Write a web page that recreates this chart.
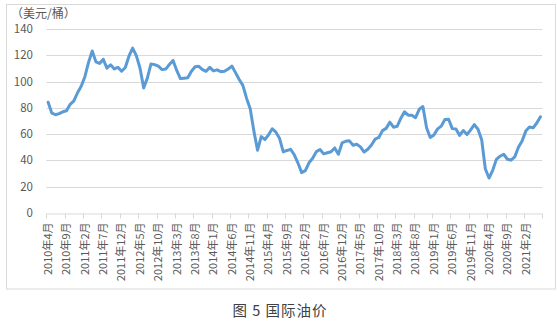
<!DOCTYPE html>
<html>
<head>
<meta charset="utf-8">
<script src="https://cdn.jsdelivr.net/npm/d3@7"></script>
<style>
  body { margin: 0; background: #fff; }
  text { font-family: "Noto Sans CJK SC", "DejaVu Sans", sans-serif; }
</style>
</head>
<body>
<div id="chart"></div>
<script>
// monthly values, 2010年4月 .. 2021年6月
var startYear = 2010;
var startMonth = 4;
var prices = [
  84.3, 76.0, 74.8, 75.6, 77.0, 77.8, 82.7, 85.3, 91.5,
  96.5, 103.7, 114.6, 123.3, 115.0, 113.8, 117.0, 110.2, 112.8, 109.6, 110.8, 107.9,
  110.7, 119.3, 125.5, 119.8, 110.3, 95.2, 102.6, 113.4, 112.9, 111.7, 109.1, 109.5,
  113.0, 116.1, 108.5, 102.3, 102.6, 102.9, 107.9, 111.3, 111.6, 109.1, 107.8, 110.8,
  108.1, 108.9, 107.5, 107.8, 109.5, 111.8, 106.8, 101.6, 97.1, 87.4, 79.4, 62.3,
  47.8, 58.1, 55.9, 59.5, 64.1, 61.5, 56.6, 46.5, 47.6, 48.4, 44.3, 38.0,
  30.7, 32.2, 38.2, 41.6, 46.7, 48.3, 45.0, 45.8, 46.6, 49.5, 44.7, 53.3,
  54.6, 54.9, 51.6, 52.3, 50.3, 46.4, 48.5, 51.7, 56.2, 57.5, 62.7, 64.4,
  69.1, 65.3, 66.0, 72.1, 77.0, 74.4, 74.3, 72.5, 78.9, 81.0, 64.8, 57.4,
  59.4, 64.0, 66.1, 71.2, 71.3, 64.2, 63.9, 59.0, 62.8, 59.7, 63.2, 67.3,
  63.7, 55.7, 33.5, 26.6, 32.5, 40.8, 43.2, 44.7, 40.9, 40.2, 42.7, 50.0,
  54.8, 62.3, 65.4, 64.8, 68.5, 73.2
];
var yTicks = [0, 20, 40, 60, 80, 100, 120, 140];
var unitLabel = "（美元/桶）";
var caption = "图 5 国际油价";

var months = prices.map(function(d, i) {
  var m = startMonth - 1 + i;
  return (startYear + Math.floor(m / 12)) + "年" + (m % 12 + 1) + "月";
});

var width = 557;
var height = 324;
var margin = { top: 29, left: 46.3, bottom: 111, right: 14.7 };

var svg = d3
  .select("#chart")
  .append("svg")
  .attr("width", width)
  .attr("height", height);

// outer frame
svg
  .append("rect")
  .attr("x", 6.5)
  .attr("y", 4.5)
  .attr("width", 549)
  .attr("height", 284.5)
  .attr("fill", "none")
  .attr("stroke", "#d9d9d9")
  .attr("stroke-width", 1);

var x = d3
  .scaleBand()
  .domain(months)
  .range([margin.left, width - margin.right])
  .padding(0);

var y = d3
  .scaleLinear()
  .domain([0, 140])
  .range([height - margin.bottom, margin.top]);

// grid
svg
  .selectAll(".grid")
  .data(yTicks.filter(function(d) { return d > 0; }))
  .enter()
  .append("line")
  .attr("class", "grid")
  .attr("x1", margin.left)
  .attr("x2", width - margin.right)
  .attr("y1", function(d) { return Math.round(y(d)) + 0.5; })
  .attr("y2", function(d) { return Math.round(y(d)) + 0.5; })
  .attr("stroke", "#d9d9d9")
  .attr("stroke-width", 1);

// y labels
svg
  .selectAll(".ylab")
  .data(yTicks)
  .enter()
  .append("text")
  .attr("class", "ylab")
  .attr("x", 33)
  .attr("y", function(d) { return y(d); })
  .attr("dy", "0.35em")
  .attr("text-anchor", "end")
  .attr("font-size", "11.5px")
  .attr("fill", "#595959")
  .text(function(d) { return d; });

svg
  .append("text")
  .attr("x", 11)
  .attr("y", 18)
  .attr("font-size", "12px")
  .attr("fill", "#595959")
  .text(unitLabel);

// x axis
var tickIdx = months.filter(function(d, i) { return i % 5 == 0; });
var xAxis = d3
  .axisBottom(x)
  .tickValues(tickIdx)
  .tickSize(0)
  .tickFormat("");

var axisY = Math.round(y(0)) + 0.5;
var gx = svg
  .append("g")
  .attr("transform", "translate(0," + axisY + ")")
  .call(xAxis);
gx.select(".domain").attr("stroke", "#d9d9d9");

// tick marks sit between categories
var tickPos = tickIdx.map(function(d) { return x(d); });
tickPos.push(width - margin.right);
gx.selectAll(".tk")
  .data(tickPos)
  .enter()
  .append("line")
  .attr("class", "tk")
  .attr("x1", function(d) { return Math.round(d) + 0.5; })
  .attr("x2", function(d) { return Math.round(d) + 0.5; })
  .attr("y1", 0)
  .attr("y2", 5)
  .attr("stroke", "#d9d9d9");

svg
  .selectAll(".xlab")
  .data(tickIdx)
  .enter()
  .append("text")
  .attr("class", "xlab")
  .attr("transform", function(d) {
    return "translate(" + (x(d) + x.bandwidth() / 2) + "," + (axisY + 9) + ") rotate(-90)";
  })
  .attr("text-anchor", "end")
  .attr("dy", "0.35em")
  .attr("font-size", "11px")
  .attr("fill", "#595959")
  .text(function(d) { return d; });

// line
var line = d3
  .line()
  .x(function(d, i) { return x(months[i]) + x.bandwidth() / 2; })
  .y(function(d) { return y(d); });

svg
  .append("path")
  .datum(prices)
  .attr("d", line)
  .attr("fill", "none")
  .attr("stroke", "#5b9bd5")
  .attr("stroke-width", 3)
  .attr("stroke-linejoin", "round")
  .attr("stroke-linecap", "round");

svg
  .append("text")
  .attr("x", 280)
  .attr("y", 316)
  .attr("text-anchor", "middle")
  .attr("font-size", "14.5px")
  .attr("letter-spacing", "1px")
  .attr("fill", "#404040")
  .text(caption);
</script>
</body>
</html>
